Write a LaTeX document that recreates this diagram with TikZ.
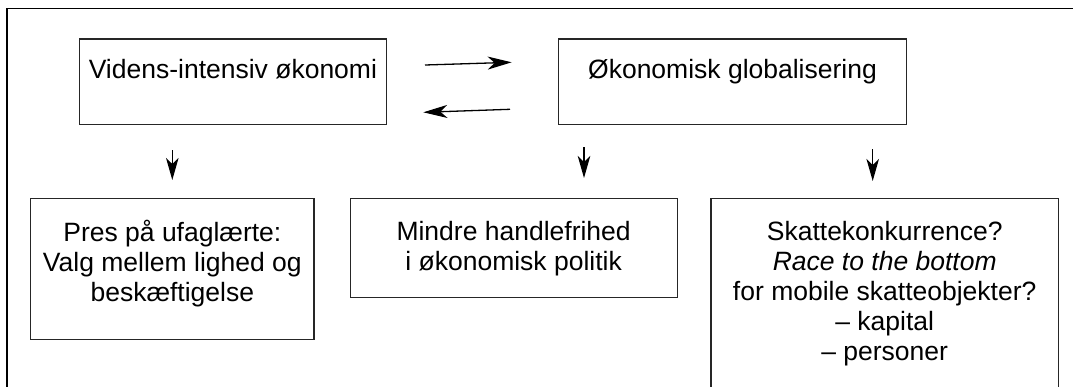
\documentclass[tikz,border=0pt]{standalone}
\usepackage{fontspec}
\setmainfont{Liberation Sans}
\usetikzlibrary{arrows.meta}
\newcommand{\bxt}[4]{\parbox[t][#2][t]{#1}{\centering\rule{0pt}{#3}#4}}
\tikzset{
  frameline/.style={draw=black, line width=1.6pt},
  boxnode/.style={draw=black!85, line width=1.3pt, inner sep=0pt, anchor=north west,
    font=\fontsize{26.5}{30.2}\selectfont},
  harrow/.style={line width=1.3pt, -{Stealth[length=24pt,width=13pt,inset=7pt]}},
  varrow/.style={line width=1.3pt, -{Stealth[length=22pt,width=12.5pt,inset=6pt]}}
}
\begin{document}
\begin{tikzpicture}[x=1pt,y=-1pt]
\useasboundingbox (0,0) rectangle (1073,386);
\clip (0,0) rectangle (1073,386);
\draw[frameline] (6.7,8.3) rectangle (1095,410);

\node[boxnode] (vid) at (79,38.3) {\bxt{306.5pt}{85.7pt}{40pt}{Videns-intensiv økonomi}};
\node[boxnode] (glob) at (557.7,38.3) {\bxt{348.3pt}{85.7pt}{40pt}{Økonomisk globalisering}};

\node[boxnode] (pres) at (30,198) {\bxt{283.4pt}{141pt}{42.5pt}{Pres på ufaglærte:\\Valg mellem lighed og\\beskæftigelse}};
\node[boxnode] (mindre) at (349.5,198) {\bxt{327pt}{99pt}{42pt}{Mindre handlefrihed\\i økonomisk politik}};
\node[boxnode] (skat) at (710.4,198) {\bxt{347.3pt}{230pt}{41.5pt}{Skattekonkurrence?\\\textit{Race to the bottom}\\for mobile skatteobjekter?\\– kapital\\– personer}};

\coordinate (r1) at (425,65);
\coordinate (r2) at (511.7,62.3);
\coordinate (l1) at (510,109.3);
\coordinate (l2) at (423.3,112.3);
\coordinate (d1a) at (172.3,150);
\coordinate (d1b) at (172.3,180);
\coordinate (d2a) at (584,147);
\coordinate (d2b) at (584,178);
\coordinate (d3a) at (872.7,149.3);
\coordinate (d3b) at (872.7,181);

\draw[harrow] (r1) -- (r2);
\draw[harrow] (l1) -- (l2);
\draw[varrow] (d1a) -- (d1b);
\draw[varrow] (d2a) -- (d2b);
\draw[varrow] (d3a) -- (d3b);
\end{tikzpicture}
\end{document}
